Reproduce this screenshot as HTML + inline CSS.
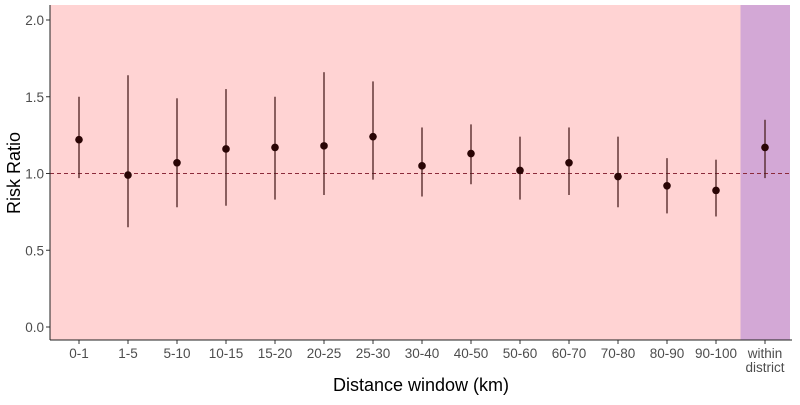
<!DOCTYPE html>
<html><head><meta charset="utf-8"><style>
body{margin:0;background:#fff;font-family:"Liberation Sans",sans-serif}
</style></head><body>
<svg id="c" width="800" height="400" xmlns="http://www.w3.org/2000/svg"></svg>
<script>
const categories=["0-1","1-5","5-10","10-15","15-20","20-25","25-30","30-40","40-50","50-60","60-70","70-80","80-90","90-100","within|district"];
const estimates=[1.22,0.99,1.07,1.16,1.17,1.18,1.24,1.05,1.13,1.02,1.07,0.98,0.92,0.89,1.17];
const lower=[0.97,0.65,0.78,0.79,0.83,0.86,0.96,0.85,0.93,0.83,0.86,0.78,0.74,0.72,0.97];
const upper=[1.50,1.64,1.49,1.55,1.50,1.66,1.60,1.30,1.32,1.24,1.30,1.24,1.10,1.09,1.35];
const yTicks=[0,0.5,1,1.5,2];
const yTickLabels=["0.0","0.5","1.0","1.5","2.0"];

const NS="http://www.w3.org/2000/svg";
const svg=document.getElementById('c');
const L=50,R=792,T=5,B=340;
const x0=79,step=49;
const x=i=>x0+i*step;
const y=v=>327-v*153.5;
function mk(tag,attrs,parent){const e=document.createElementNS(NS,tag);for(const k in attrs)e.setAttribute(k,attrs[k]);(parent||svg).appendChild(e);return e;}

let bg=mk('rect',{x:L,y:T,width:(x(13)+x(14))/2-L,height:B-T,fill:'#ffd3d3'});


let bg2=mk('rect',{x:(x(13)+x(14))/2,y:T,width:790-(x(13)+x(14))/2,height:B-T,fill:'#d3a8d6'});



yTicks.forEach((v,i)=>{
  mk('line',{x1:L-4,x2:L,y1:y(v),y2:y(v),stroke:'#333','stroke-width':1});
  const t=mk('text',{x:L-6,y:y(v)+5,'text-anchor':'end','font-size':13.5,fill:'#4d4d4d'});
  t.textContent=yTickLabels[i];
  
  
});

let ref=mk('line',{x1:L,x2:R,y1:y(1),y2:y(1),stroke:'#8b2a3a','stroke-width':1,'stroke-dasharray':'4,3'});



categories.forEach((c,i)=>{
  const g=mk('g',{});
  
  
  mk('line',{x1:x(i),x2:x(i),y1:y(lower[i]),y2:y(upper[i]),stroke:'#4a2020','stroke-width':1.3},g);
  mk('circle',{cx:x(i),cy:y(estimates[i]),r:3.8,fill:'#2a0505'},g);
  mk('line',{x1:x(i),x2:x(i),y1:B,y2:B+4,stroke:'#333'});
  const parts=c.split('|');
  parts.forEach((p,j)=>{
    const t=mk('text',{x:x(i),y:B+18+j*14,'text-anchor':'middle','font-size':13.5,fill:'#4d4d4d'});
    t.textContent=p;
    
    
  });
});

mk('line',{x1:L,x2:L,y1:T,y2:B,stroke:'#222','stroke-width':1});
mk('line',{x1:L,x2:R,y1:B,y2:B,stroke:'#222','stroke-width':1});

let xt=mk('text',{x:421,y:391,'text-anchor':'middle','font-size':18,fill:'#000'});
xt.textContent='Distance window (km)';


let yt=mk('text',{x:20,y:173,'text-anchor':'middle','font-size':18,fill:'#000',transform:'rotate(-90 20 173)'});
yt.textContent='Risk Ratio';


</script>
</body></html>
